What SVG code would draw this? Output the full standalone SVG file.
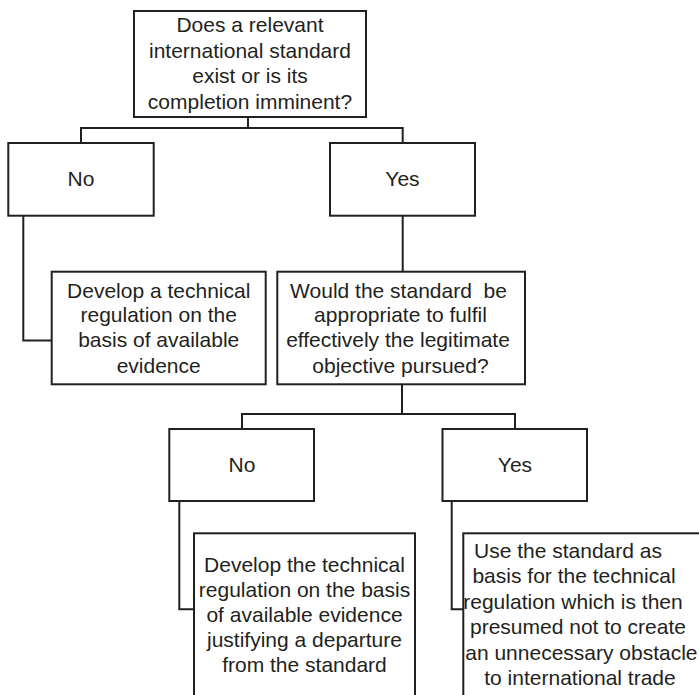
<svg xmlns="http://www.w3.org/2000/svg" width="699" height="695" viewBox="0 0 699 695">
<style>
.box{fill:#fff;stroke:#231f20;stroke-width:2}
.con{fill:none;stroke:#231f20;stroke-width:2}
text{font-family:"Liberation Sans",Arial,sans-serif;font-size:21px;fill:#231f20;text-anchor:middle}
</style>
<rect width="699" height="695" fill="#fff"/>
<g id="connectors">
<path class="con" d="M248,117V128M81,143V128H402.7V143"/>
<path class="con" d="M23.3,215.7V340.5H51.7"/>
<path class="con" d="M402.7,215.7V271.7"/>
<path class="con" d="M402,384.3V414M242,429V414H515V429"/>
<path class="con" d="M179.3,501V609.3H194"/>
<path class="con" d="M451.7,501V609.3H463.3"/>
</g>
<g id="q1">
<rect class="box" x="134" y="11" width="232" height="106"/>
<text x="250" y="32">Does a relevant</text>
<text x="250" y="57.5">international standard</text>
<text x="250" y="83">exist or is its</text>
<text x="250" y="108.5">completion imminent?</text>
</g>
<g id="no1">
<rect class="box" x="8.3" y="143" width="145.4" height="72.7"/>
<text x="81" y="186">No</text>
</g>
<g id="yes1">
<rect class="box" x="330" y="143" width="145" height="72.7"/>
<text x="402.5" y="186">Yes</text>
</g>
<g id="develop1">
<rect class="box" x="51.7" y="271.7" width="214" height="112.6"/>
<text x="158.7" y="297.7">Develop a technical</text>
<text x="158.7" y="322">regulation on the</text>
<text x="158.7" y="347.3">basis of available</text>
<text x="158.7" y="372.7">evidence</text>
</g>
<g id="q2">
<rect class="box" x="277.3" y="271.7" width="247.7" height="112.6"/>
<text x="398.5" y="297.7" xml:space="preserve">Would the standard  be</text>
<text x="400.5" y="322">appropriate to fulfil</text>
<text x="398" y="347.3">effectively the legitimate</text>
<text x="400.5" y="372.7">objective pursued?</text>
</g>
<g id="no2">
<rect class="box" x="169.3" y="429" width="144.7" height="72"/>
<text x="242" y="472">No</text>
</g>
<g id="yes2">
<rect class="box" x="442.5" y="429" width="144.5" height="72"/>
<text x="515" y="472">Yes</text>
</g>
<g id="develop2">
<rect class="box" x="194" y="533.3" width="221" height="170"/>
<text x="304.5" y="571.7">Develop the technical</text>
<text x="304.5" y="596.7">regulation on the basis</text>
<text x="304.5" y="621.7">of available evidence</text>
<text x="304.5" y="646.7">justifying a departure</text>
<text x="304.5" y="671.7">from the standard</text>
</g>
<g id="use">
<rect class="box" x="463.3" y="533.3" width="240" height="170"/>
<text x="568" y="557.5">Use the standard as</text>
<text x="574" y="583">basis for the technical</text>
<text x="573" y="608.5">regulation which is then</text>
<text x="578" y="634">presumed not to create</text>
<text x="581.4" y="659.5">an unnecessary obstacle</text>
<text x="580" y="685">to international trade</text>
</g>
</svg>
